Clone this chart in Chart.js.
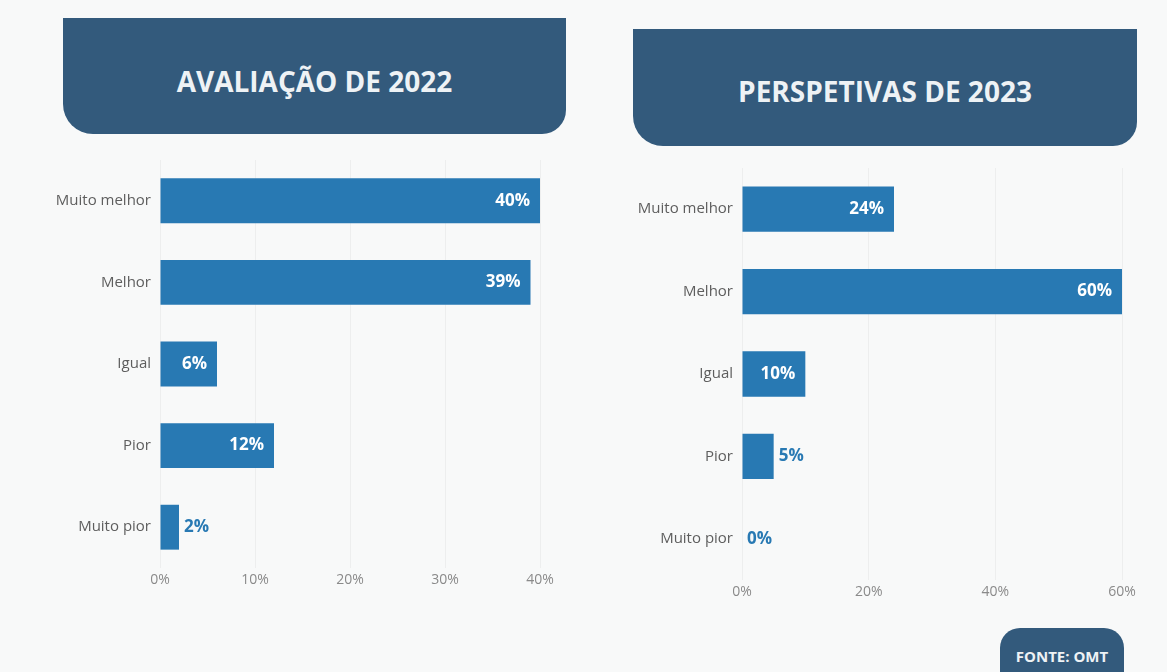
<!DOCTYPE html>
<html>
<head>
<meta charset="utf-8">
<script src="https://cdn.jsdelivr.net/npm/chart.js@4"></script>
<style>
  html, body { margin: 0; padding: 0; }
  body { width: 1167px; height: 672px; background: #f8f9f9; position: relative; overflow: hidden; font-family: "Open Sans", sans-serif; }
  .header { position: absolute; background: #335a7c; color: #eef2f5; font-weight: 700; font-size: 28px; box-sizing: border-box;
            display: flex; align-items: center; justify-content: center; border-radius: 0 0 24px 30px; }
  #h1 { left: 63px; top: 18px; width: 503px; height: 116px; padding-top: 10px; }
  #h2 { left: 633px; top: 29px; width: 504px; height: 117px; padding-top: 6px; }
  #source { position: absolute; left: 1000px; top: 628px; width: 124px; height: 60px; background: #335a7c; color: #eef2f5;
            border-radius: 20px 20px 0 0; font-weight: 700; font-size: 15px; text-align: center; line-height: 56px; }
  canvas { position: absolute; top: 0; }
  #chart2022 { left: 0; }
  #chart2023 { left: 590px; }
</style>
</head>
<body>
<div class="header" id="h1">AVALIAÇÃO DE 2022</div>
<div class="header" id="h2">PERSPETIVAS DE 2023</div>
<canvas id="chart2022" width="590" height="620"></canvas>
<canvas id="chart2023" width="577" height="632"></canvas>
<div id="source">FONTE: OMT</div>
<script>
// Categories and values
const categories = ['Muito melhor', 'Melhor', 'Igual', 'Pior', 'Muito pior'];
const values2022 = [40, 39, 6, 12, 2];
const values2023 = [24, 60, 10, 5, 0];
const ticks2022 = { max: 40, step: 10 };
const ticks2023 = { max: 60, step: 20 };

const barColor = '#2879b3';

// Draw the percentage next to / inside each bar
const valueLabels = {
    id: 'valueLabels',
    afterDatasetsDraw(chart) {
        const ctx = chart.ctx;
        const meta = chart.getDatasetMeta(0);
        const data = chart.data.datasets[0].data;
        ctx.save();
        ctx.font = 'bold 17px "Open Sans"';
        ctx.textBaseline = 'middle';
        meta.data.forEach((bar, i) => {
            const label = data[i] + '%';
            if (bar.x - bar.base > 45) {
                ctx.fillStyle = '#ffffff';
                ctx.textAlign = 'right';
                ctx.fillText(label, bar.x - 10, bar.y);
            } else {
                ctx.fillStyle = barColor;
                ctx.textAlign = 'left';
                ctx.fillText(label, bar.x + 5, bar.y);
            }
        });
        ctx.restore();
    }
};

function createBarChart(canvasId, values, tickInfo, yWidth, padding) {
    const ctx = document.getElementById(canvasId).getContext('2d');
    return new Chart(ctx, {
        type: 'bar',
        data: {
            labels: categories,
            datasets: [{
                data: values,
                backgroundColor: barColor,
                borderWidth: 0,
                barPercentage: 0.55,
                categoryPercentage: 1
            }]
        },
        options: {
            indexAxis: 'y',
            responsive: false,
            animation: false,
            layout: { padding: padding },
            plugins: {
                legend: { display: false },
                tooltip: { enabled: false }
            },
            scales: {
                x: {
                    min: 0,
                    max: tickInfo.max,
                    grid: { color: 'rgba(0,0,0,0.045)', drawTicks: false },
                    border: { display: false },
                    ticks: {
                        stepSize: tickInfo.step,
                        padding: 4,
                        color: '#8a8a8a',
                        font: { family: '"Open Sans"', size: 14 },
                        callback: v => v + '%'
                    },
                    afterFit: scale => { scale.height = 30; }
                },
                y: {
                    grid: { display: false, drawTicks: false },
                    border: { display: false },
                    ticks: {
                        padding: 9,
                        color: '#5e5e5e',
                        font: { family: '"Open Sans"', size: 15 }
                    },
                    afterFit: scale => { scale.width = yWidth; }
                }
            }
        },
        plugins: [valueLabels]
    });
}

const chart2022 = createBarChart('chart2022', values2022, ticks2022, 160,
    { top: 160, bottom: 22, left: 0, right: 50 });
const chart2023 = createBarChart('chart2023', values2023, ticks2023, 140,
    { top: 168, bottom: 22, left: 12, right: 45 });
</script>
</body>
</html>
